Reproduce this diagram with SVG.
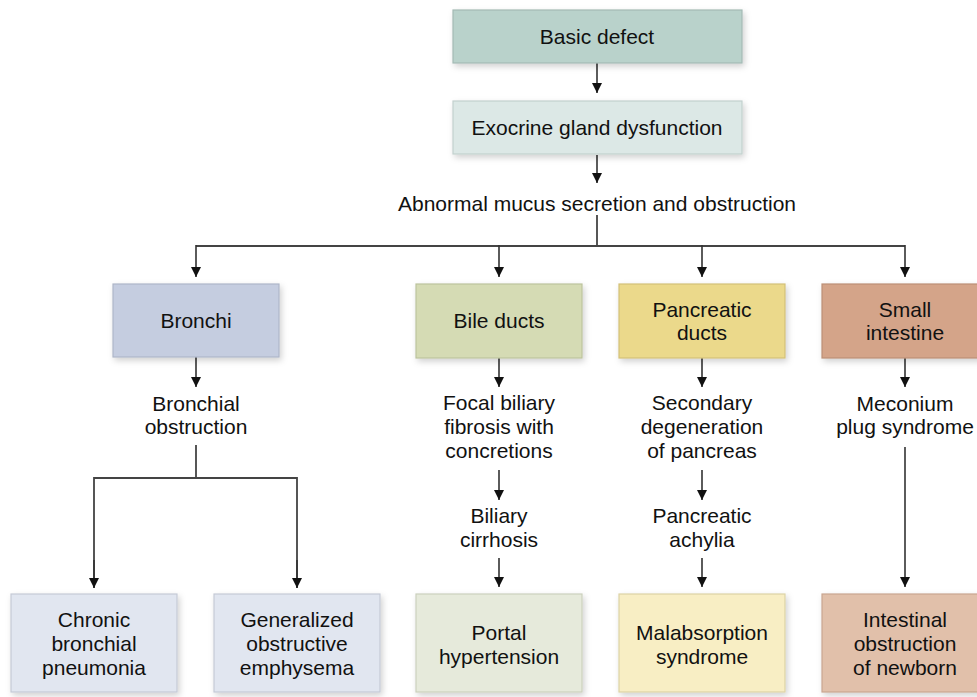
<svg xmlns="http://www.w3.org/2000/svg" width="977" height="697" viewBox="0 0 977 697">
<defs>
<filter id="sh" x="-10%" y="-10%" width="125%" height="130%">
<feDropShadow dx="2" dy="3" stdDeviation="3" flood-color="#000" flood-opacity="0.18"/>
</filter>
<marker id="ah" viewBox="0 0 10 10" refX="10" refY="5" markerWidth="10" markerHeight="10" markerUnits="userSpaceOnUse" orient="auto">
<path d="M0,0 L10,5 L0,10 Z" fill="#111"/>
</marker>
</defs>
<style>
text{font-family:"Liberation Sans",Arial,sans-serif;font-size:21px;fill:#111;text-anchor:middle}
.box{stroke-width:1.2;filter:url(#sh)}
.ln{stroke:#444;stroke-width:1.8;fill:none}
.ar{stroke:#333;stroke-width:1.6;fill:none;marker-end:url(#ah)}
</style>
<rect width="977" height="697" fill="#fff"/>

<g id="connectors">
<line class="ar" x1="597" y1="63" x2="597" y2="93"/>
<line class="ar" x1="597" y1="155" x2="597" y2="183"/>
<line class="ln" x1="597" y1="215" x2="597" y2="246"/>
<line class="ln" x1="196" y1="246" x2="905" y2="246"/>
<line class="ar" x1="196" y1="245" x2="196" y2="277"/>
<line class="ar" x1="499" y1="245" x2="499" y2="277"/>
<line class="ar" x1="702" y1="245" x2="702" y2="277"/>
<line class="ar" x1="905" y1="245" x2="905" y2="277"/>
<line class="ar" x1="196" y1="357" x2="196" y2="387"/>
<line class="ar" x1="499" y1="358" x2="499" y2="387"/>
<line class="ar" x1="702" y1="358" x2="702" y2="387"/>
<line class="ar" x1="905" y1="358" x2="905" y2="387"/>
<line class="ln" x1="196" y1="445" x2="196" y2="478"/>
<polyline class="ln" points="94,588 94,478 297,478 297,588" style="marker-end:none"/>
<line class="ar" x1="94" y1="560" x2="94" y2="588"/>
<line class="ar" x1="297" y1="560" x2="297" y2="588"/>
<line class="ar" x1="499" y1="470" x2="499" y2="500"/>
<line class="ar" x1="702" y1="470" x2="702" y2="500"/>
<line class="ar" x1="499" y1="558" x2="499" y2="587"/>
<line class="ar" x1="702" y1="558" x2="702" y2="587"/>
<line class="ar" x1="905" y1="447" x2="905" y2="587"/>
</g>

<g id="basic-defect">
<rect class="box" x="453" y="10" width="289" height="53" fill="#b9d2cb" stroke="#a3bab4"/>
<text x="597" y="44">Basic defect</text>
</g>
<g id="exocrine">
<rect class="box" x="453" y="101" width="289" height="53" fill="#dce8e6" stroke="#c2d0ce"/>
<text x="597" y="135">Exocrine gland dysfunction</text>
</g>
<g id="abnormal-mucus">
<text x="597" y="211">Abnormal mucus secretion and obstruction</text>
</g>

<g id="bronchi">
<rect class="box" x="113" y="284" width="166" height="73" fill="#c5cde0" stroke="#aeb6c8"/>
<text x="196" y="328">Bronchi</text>
</g>
<g id="bile-ducts">
<rect class="box" x="416" y="284" width="166" height="74" fill="#d5dbb4" stroke="#bcc39d"/>
<text x="499" y="328">Bile ducts</text>
</g>
<g id="pancreatic-ducts">
<rect class="box" x="619" y="284" width="166" height="74" fill="#ebd98b" stroke="#d2c078"/>
<text x="702" y="317">Pancreatic</text>
<text x="702" y="340">ducts</text>
</g>
<g id="small-intestine">
<rect class="box" x="822" y="284" width="170" height="74" fill="#d4a489" stroke="#bb8f76"/>
<text x="905" y="317">Small</text>
<text x="905" y="340">intestine</text>
</g>

<g id="bronchial-obstruction">
<text x="196" y="411">Bronchial</text>
<text x="196" y="434">obstruction</text>
</g>
<g id="focal-biliary">
<text x="499" y="410">Focal biliary</text>
<text x="499" y="434">fibrosis with</text>
<text x="499" y="458">concretions</text>
</g>
<g id="secondary-degeneration">
<text x="702" y="410">Secondary</text>
<text x="702" y="434">degeneration</text>
<text x="702" y="458">of pancreas</text>
</g>
<g id="meconium">
<text x="905" y="411">Meconium</text>
<text x="905" y="434">plug syndrome</text>
</g>
<g id="biliary-cirrhosis">
<text x="499" y="523">Biliary</text>
<text x="499" y="547">cirrhosis</text>
</g>
<g id="pancreatic-achylia">
<text x="702" y="523">Pancreatic</text>
<text x="702" y="547">achylia</text>
</g>

<g id="chronic-pneumonia">
<rect class="box" x="11" y="594" width="166" height="98" fill="#e1e6f0" stroke="#c5cad6"/>
<text x="94" y="627">Chronic</text>
<text x="94" y="651">bronchial</text>
<text x="94" y="675">pneumonia</text>
</g>
<g id="emphysema">
<rect class="box" x="214" y="594" width="166" height="98" fill="#e1e6f0" stroke="#c5cad6"/>
<text x="297" y="627">Generalized</text>
<text x="297" y="651">obstructive</text>
<text x="297" y="675">emphysema</text>
</g>
<g id="portal-hypertension">
<rect class="box" x="416" y="594" width="166" height="98" fill="#e6eadb" stroke="#cbd0bd"/>
<text x="499" y="640">Portal</text>
<text x="499" y="664">hypertension</text>
</g>
<g id="malabsorption">
<rect class="box" x="619" y="594" width="166" height="98" fill="#f8eec4" stroke="#ddd2a6"/>
<text x="702" y="640">Malabsorption</text>
<text x="702" y="664">syndrome</text>
</g>
<g id="intestinal-obstruction">
<rect class="box" x="822" y="594" width="170" height="98" fill="#e1c0aa" stroke="#c9a690"/>
<text x="905" y="627">Intestinal</text>
<text x="905" y="651">obstruction</text>
<text x="905" y="675">of newborn</text>
</g>
</svg>
